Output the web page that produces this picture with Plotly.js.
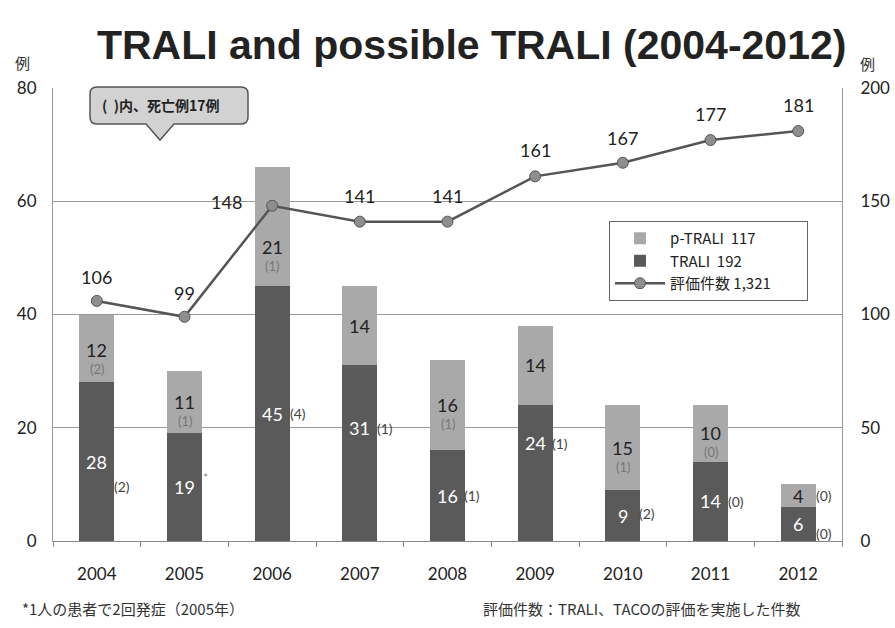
<!DOCTYPE html>
<html>
<head>
<meta charset="utf-8">
<script src="https://cdn.plot.ly/plotly-3.0.1.min.js"></script>
<style>html,body{margin:0;padding:0;background:#fff;}#chart{width:895px;height:628px;}</style>
</head>
<body>
<div id="chart"></div>
<script>
// ---- data ----
const years = ['2004','2005','2006','2007','2008','2009','2010','2011','2012'];
const trali = [28, 19, 45, 31, 16, 24, 9, 14, 6];
const ptrali = [12, 11, 21, 14, 16, 14, 15, 10, 4];
const evalCount = [106, 99, 148, 141, 141, 161, 167, 177, 181];
const traliDeaths = ['(2)', '*', '(4)', '(1)', '(1)', '(1)', '(2)', '(0)', '(0)'];
const ptraliDeaths = ['(2)', '(1)', '(1)', '', '(1)', '', '(1)', '(0)', '(0)'];
const legendNames = ['p-TRALI  117', 'TRALI  192', '評価件数 1,321'];

// ---- label placement styling (pixel nudges) ----
const traliLabelShift = [0, 0, 0, 25, 0, 30, 0, 0, 0];
const traliDeathShift = [[25,-25],[21,10],[26,0],[25,25],[24,0],[25,30],[24,2],[25,0],[26,-9]];
const ptraliLabelShift = [-2, 0, -20, 0, 0, 0, 0, 0, 0];
const evalLabelShift = [[0,24],[0,24],[-46,4],[0,26],[0,26],[0,26],[0,25],[0,26],[0,26]];
const legendPad = '\u00a0'.repeat(9);

// geometry helpers (plot area in px)
const W = 895, H = 628, L = 53, R = 842, T = 88, B = 541;
const px = x => (x - L) / (R - L);
const py = y => (B - y) / (B - T);

const numFont = 'Lato, "Open Sans", sans-serif';
const jpFont = '"Noto Sans CJK JP", sans-serif';

const traces = [
  { type: 'bar', name: legendNames[1], x: years, y: trali, width: 0.4,
    marker: { color: '#5a5a5a' }, hoverinfo: 'skip', legendrank: 2 },
  { type: 'bar', name: legendNames[0], x: years, y: ptrali, width: 0.4,
    marker: { color: '#a9a9a9' }, hoverinfo: 'skip', legendrank: 1 },
  { type: 'scatter', mode: 'lines+markers', name: legendNames[2] + legendPad, x: years, y: evalCount, yaxis: 'y2',
    line: { color: '#555555', width: 2.5 },
    marker: { size: 11, color: '#8e8e8e', line: { color: '#555', width: 1 } },
    hoverinfo: 'skip', legendrank: 3 }
];

const annotations = [];
years.forEach((yr, i) => {
  const star = traliDeaths[i] === '*';
  // TRALI value (white)
  annotations.push({ x: i, y: trali[i] / 2, xref: 'x', yref: 'y', text: String(trali[i]),
    showarrow: false, xanchor: 'center', yshift: traliLabelShift[i], font: { family: numFont, size: 18, color: '#ffffff' } });
  // TRALI deaths
  annotations.push({ x: i, y: trali[i] / 2, xref: 'x', yref: 'y', text: traliDeaths[i],
    showarrow: false, xanchor: 'center', xshift: traliDeathShift[i][0], yshift: traliDeathShift[i][1],
    font: { family: numFont, size: star ? 12 : 14, color: star ? '#888' : '#444' } });
  // p-TRALI value
  const mid = trali[i] + ptrali[i] / 2;
  annotations.push({ x: i, y: mid, xref: 'x', yref: 'y', text: String(ptrali[i]),
    showarrow: false, xanchor: 'center', yshift: ptraliLabelShift[i], font: { family: numFont, size: 18, color: '#222' } });
  if (ptraliDeaths[i]) {
    const last = i === years.length - 1;
    annotations.push({ x: i, y: mid, xref: 'x', yref: 'y', text: ptraliDeaths[i],
      showarrow: false, xanchor: 'center', xshift: last ? 26 : 0, yshift: last ? 0 : ptraliLabelShift[i] - 19,
      font: { family: numFont, size: last ? 14 : 13, color: last ? '#444' : '#777' } });
  }
  // evaluation count label
  annotations.push({ x: i, y: evalCount[i], xref: 'x', yref: 'y2', text: String(evalCount[i]),
    showarrow: false, xanchor: 'center', xshift: evalLabelShift[i][0], yshift: evalLabelShift[i][1],
    font: { family: numFont, size: 18, color: '#222' } });
});

// unit labels
annotations.push({ xref: 'paper', yref: 'paper', x: px(22), y: py(63), xanchor: 'center', yanchor: 'middle', text: '例', showarrow: false,
  font: { family: jpFont, size: 15, color: '#333' } });
annotations.push({ xref: 'paper', yref: 'paper', x: px(867), y: py(64), xanchor: 'center', yanchor: 'middle', text: '例', showarrow: false,
  font: { family: jpFont, size: 15, color: '#333' } });
// callout text
annotations.push({ xref: 'paper', yref: 'paper', x: px(160), y: py(105), xanchor: 'center', yanchor: 'middle', text: '(  )内、死亡例17例', showarrow: false,
  font: { family: jpFont, size: 14, color: '#222', weight: 'bold' } });
// footnotes
annotations.push({ xref: 'paper', yref: 'paper', x: px(20), y: py(608), xanchor: 'left', yanchor: 'middle', text: '*1人の患者で2回発症（2005年）', showarrow: false,
  font: { family: jpFont, size: 15, color: '#333' } });
annotations.push({ xref: 'paper', yref: 'paper', x: px(481), y: py(608), xanchor: 'left', yanchor: 'middle', text: '評価件数：TRALI、TACOの評価を実施した件数', showarrow: false,
  font: { family: jpFont, size: 15, color: '#333' } });

// callout shape (rounded box with pointer)
const cx0 = 90, cx1 = 248, cy0 = 87, cy1 = 124, rr = 7, tipX = 160, tipY = 140;
const P = (x, y) => px(x) + ',' + py(y);
const calloutPath = 'M' + P(cx0 + rr, cy0) + ' L' + P(cx1 - rr, cy0) +
  ' Q' + P(cx1, cy0) + ' ' + P(cx1, cy0 + rr) + ' L' + P(cx1, cy1 - rr) +
  ' Q' + P(cx1, cy1) + ' ' + P(cx1 - rr, cy1) + ' L' + P(tipX + 14, cy1) +
  ' L' + P(tipX, tipY) + ' L' + P(tipX - 14, cy1) + ' L' + P(cx0 + rr, cy1) +
  ' Q' + P(cx0, cy1) + ' ' + P(cx0, cy1 - rr) + ' L' + P(cx0, cy0 + rr) +
  ' Q' + P(cx0, cy0) + ' ' + P(cx0 + rr, cy0) + ' Z';

const layout = {
  width: W, height: H,
  margin: { l: L, r: W - R, t: T, b: H - B, pad: 0 },
  paper_bgcolor: '#ffffff', plot_bgcolor: '#ffffff',
  barmode: 'stack', bargap: 0.6,
  showlegend: true,
  title: { text: 'TRALI and possible TRALI (2004-2012)', x: 0.527, xanchor: 'center', y: 1 - 45 / H, yanchor: 'middle',
    font: { family: '"Liberation Sans", Arial, sans-serif', size: 41, color: '#222', weight: 'bold' } },
  xaxis: { type: 'category', range: [-0.5, 8.5], tickson: 'boundaries', ticks: 'outside', ticklen: 5, tickcolor: '#888',
    showline: true, linecolor: '#888', linewidth: 1, showgrid: false,
    tickfont: { family: numFont, size: 17, color: '#222' }, ticklabelstandoff: 18, fixedrange: true },
  yaxis: { range: [0, 80], dtick: 20, showgrid: true, gridcolor: '#9a9a9a', gridwidth: 1,
    zeroline: false, showline: true, linecolor: '#999', ticks: '',
    tickfont: { family: numFont, size: 17, color: '#222' }, ticklabelstandoff: 12, fixedrange: true },
  yaxis2: { range: [0, 200], dtick: 50, overlaying: 'y', side: 'right', showgrid: false,
    zeroline: false, showline: true, linecolor: '#999', ticks: '',
    tickfont: { family: numFont, size: 17, color: '#222' }, ticklabelstandoff: 14, fixedrange: true },
  legend: { x: px(609), y: py(221), xanchor: 'left', yanchor: 'top', bgcolor: '#ffffff',
    bordercolor: '#666', borderwidth: 1, traceorder: 'normal',
    font: { family: jpFont, size: 15, color: '#222' }, itemwidth: 50, tracegroupgap: 0 },
  shapes: [
    { type: 'path', xref: 'paper', yref: 'paper', path: calloutPath,
      fillcolor: '#d2d2d2', line: { color: '#555', width: 1.5 }, layer: 'above' }
  ],
  annotations: annotations
};

Plotly.newPlot('chart', traces, layout, { staticPlot: true, displayModeBar: false });
</script>
</body>
</html>
